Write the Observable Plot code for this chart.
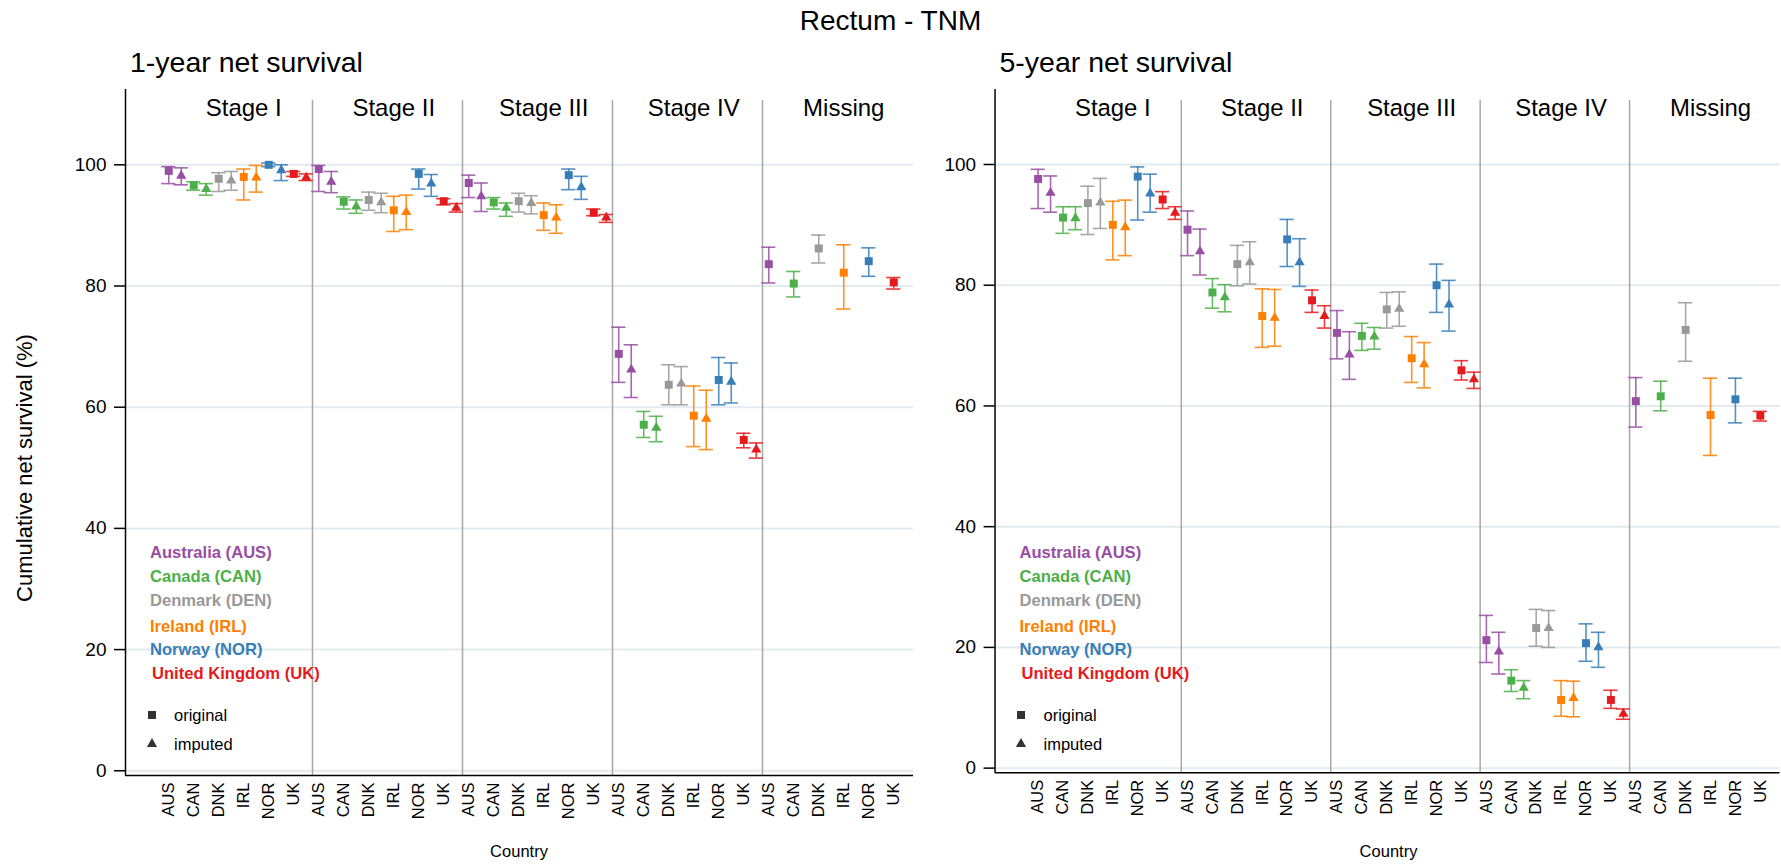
<!DOCTYPE html>
<html><head><meta charset="utf-8">
<script src="https://cdn.jsdelivr.net/npm/d3@7"></script>
<script src="https://cdn.jsdelivr.net/npm/@observablehq/plot@0.6"></script>
<style>
body{margin:0;overflow:hidden;background:#fff;font-family:"Liberation Sans",Arial,sans-serif;color:#000;}
#wrap{position:relative;width:1781px;height:864px;overflow:hidden;}
.abs{position:absolute;white-space:nowrap;}
.panel{position:absolute;top:80px;}
</style></head><body><div id="wrap"></div>
<script>
const countries = ["AUS","CAN","DNK","IRL","NOR","UK"];
const countryNames = ["Australia (AUS)","Canada (CAN)","Denmark (DEN)","Ireland (IRL)","Norway (NOR)","United Kingdom (UK)"];
const countryColors = ["#984ea3","#4daf4a","#999999","#ff7f00","#377eb8","#e41a1c"];
const stages = ["Stage I","Stage II","Stage III","Stage IV","Missing"];
const panelTitles = ["1-year net survival","5-year net survival"];
const mainTitle = "Rectum - TNM";
const yTitle = "Cumulative net survival (%)";
const xTitle = "Country";
const yTicks = [0,20,40,60,80,100];
const typeLabels = ["original","imputed"];

// [estimate, lower, upper] per stage (rows) and country (AUS..UK)
const oneYearOriginal = [
  [[99.0,96.9,99.7],[96.6,95.8,97.2],[97.7,95.6,98.7],[98.0,94.2,99.3],[100.0,99.7,100.3],[98.5,98.1,98.9]],
  [[99.3,95.6,99.9],[93.9,92.7,94.7],[94.2,92.5,95.5],[92.5,89.0,94.8],[98.5,96.0,99.3],[94.0,93.4,94.4]],
  [[97.0,94.6,98.3],[93.8,92.7,94.6],[94.0,92.2,95.3],[91.7,89.2,93.7],[98.3,95.9,99.3],[92.1,91.6,92.7]],
  [[68.8,64.1,73.2],[57.1,55.0,59.3],[63.7,60.4,67.0],[58.6,53.5,63.5],[64.5,60.4,68.2],[54.6,53.3,55.7]],
  [[83.6,80.5,86.4],[80.4,78.2,82.4],[86.2,83.8,88.4],[82.2,76.2,86.8],[84.1,81.6,86.3],[80.6,79.5,81.4]]
];
const oneYearImputed = [
  [[98.2,96.7,99.5],[96.0,95.0,96.9],[97.4,95.8,98.9],[97.9,95.5,99.9],[99.1,97.4,100.0],[97.9,97.4,98.5]],
  [[97.2,95.4,98.9],[93.1,92.0,94.2],[93.8,92.1,95.3],[92.2,89.3,95.0],[96.9,94.8,98.4],[92.9,92.2,93.6]],
  [[94.8,92.3,97.0],[92.9,91.5,93.7],[93.7,91.9,94.9],[91.3,88.7,93.4],[96.3,94.3,98.1],[91.3,90.5,91.8]],
  [[66.2,61.6,70.3],[56.6,54.3,58.5],[63.9,60.4,66.7],[58.1,53.0,62.8],[64.2,60.7,67.3],[53.0,51.6,54.1]]
];
const fiveYearOriginal = [
  [[97.6,92.7,99.2],[91.2,88.6,93.0],[93.6,88.4,96.4],[90.0,84.2,93.9],[98.0,90.8,99.6],[94.2,92.7,95.5]],
  [[89.2,84.9,92.3],[78.8,76.2,81.1],[83.5,79.9,86.6],[74.9,69.7,79.4],[87.6,83.1,90.9],[77.5,75.5,79.2]],
  [[72.1,67.8,75.8],[71.6,69.2,73.7],[76.0,72.9,78.8],[67.9,63.9,71.5],[80.0,75.5,83.5],[65.9,64.3,67.5]],
  [[21.2,17.5,25.3],[14.5,12.7,16.3],[23.2,20.2,26.3],[11.3,8.6,14.5],[20.7,17.7,23.9],[11.3,9.9,12.9]],
  [[60.8,56.5,64.7],[61.6,59.2,64.1],[72.6,67.4,77.1],[58.5,51.8,64.6],[61.1,57.2,64.6],[58.4,57.5,59.1]]
];
const fiveYearImputed = [
  [[95.3,92.1,98.1],[91.1,89.2,93.0],[93.7,89.4,97.7],[89.6,84.9,94.1],[95.2,92.1,98.4],[92.0,90.9,93.0]],
  [[85.6,81.7,89.3],[78.0,75.6,80.1],[83.8,80.2,87.2],[74.6,69.9,79.3],[83.8,79.8,87.7],[74.9,72.9,76.6]],
  [[68.5,64.4,72.3],[71.5,69.4,73.0],[76.1,73.2,78.9],[66.9,63.0,70.5],[76.8,72.4,80.8],[64.4,62.9,65.6]],
  [[19.3,15.6,22.5],[13.3,11.5,14.5],[23.2,20.0,26.1],[11.6,8.5,14.4],[20.0,16.7,22.5],[9.0,8.1,9.8]]
];

const wrap = document.getElementById("wrap");
function addText(txt, css) {
  const d = document.createElement("div");
  d.className = "abs";
  d.textContent = txt;
  Object.assign(d.style, css);
  wrap.appendChild(d);
  return d;
}

const slotsPerStage = countries.length * 2;
const xDomain = [-3.46, 59.58];
const yDomain = [-0.78, 112.43];

function buildRows(orig, imp) {
  const rows = [];
  orig.forEach((stageVals, s) => stageVals.forEach((v, c) => rows.push({stage: s, country: countries[c], type: 0, slot: s * slotsPerStage + c * 2, est: v[0], lo: v[1], hi: v[2]})));
  imp.forEach((stageVals, s) => stageVals.forEach((v, c) => rows.push({stage: s, country: countries[c], type: 1, slot: s * slotsPerStage + c * 2 + 1, est: v[0], lo: v[1], hi: v[2]})));
  return rows;
}

function panel(orig, imp) {
  const rows = buildRows(orig, imp);
  const tickSlots = [];
  stages.forEach((s, si) => countries.forEach((c, ci) => tickSlots.push(si * slotsPerStage + ci * 2)));
  const dividers = stages.slice(1).map((s, i) => (i + 1) * slotsPerStage - 0.5);
  const capHalf = 0.57;
  const colorScale = {domain: countries, range: countryColors};
  return Plot.plot({
    width: 915, height: 755,
    marginLeft: 125, marginRight: 2, marginTop: 9, marginBottom: 60,
    style: {fontFamily: "'Liberation Sans', Arial, sans-serif", background: "transparent", overflow: "visible", color: "#000"},
    x: {domain: xDomain},
    y: {domain: yDomain},
    color: colorScale,
    marks: [
      Plot.ruleY(yTicks, {stroke: "#e2ebef", strokeWidth: 2}),
      Plot.ruleX(dividers, {y1: yDomain[0], y2: 110.6, stroke: "#a8a8a8", strokeWidth: 1.5}),
      Plot.text(stages, {x: (d, i) => i * slotsPerStage + 6, y: 109.3, text: d => d, fontSize: 24, fill: "#000"}),
      Plot.ruleX(rows, {x: "slot", y1: "lo", y2: "hi", stroke: "country", strokeWidth: 1.6, strokeOpacity: 0.85}),
      Plot.ruleY(rows, {y: "lo", x1: d => d.slot - capHalf, x2: d => d.slot + capHalf, stroke: "country", strokeWidth: 1.6, strokeOpacity: 0.85}),
      Plot.ruleY(rows, {y: "hi", x1: d => d.slot - capHalf, x2: d => d.slot + capHalf, stroke: "country", strokeWidth: 1.6, strokeOpacity: 0.85}),
      Plot.dot(rows.filter(d => d.type === 0), {x: "slot", y: "est", symbol: "square", r: 4.5, fill: "country", stroke: null}),
      Plot.dot(rows.filter(d => d.type === 1), {x: "slot", y: "est", symbol: "triangle", r: 3.8, fill: "country", stroke: null}),
      Plot.ruleX([xDomain[0]], {stroke: "#000", strokeWidth: 1.5}),
      Plot.ruleY([yDomain[0]], {stroke: "#000", strokeWidth: 1.5}),
      Plot.axisY(yTicks, {tickSize: 11, tickPadding: 8, fontSize: 19, strokeWidth: 1.5, label: null}),
      Plot.axisX(tickSlots, {tickSize: 0, tickPadding: 7, tickRotate: -90, fontSize: 16.5, label: null,
        tickFormat: d => countries[(d % slotsPerStage) / 2]})
    ]
  });
}

const offsets = [0, 869.5];
const data = [[oneYearOriginal, oneYearImputed], [fiveYearOriginal, fiveYearImputed]];

addText(mainTitle, {left: "0px", width: "1781px", textAlign: "center", top: "5px", fontSize: "28px", lineHeight: "32px"});

offsets.forEach((off, p) => {
  const div = document.createElement("div");
  div.className = "panel";
  div.style.left = off + "px";
  div.appendChild(panel(data[p][0], data[p][1]));
  wrap.appendChild(div);

  addText(panelTitles[p], {left: (130 + off) + "px", top: "46px", fontSize: "28.5px", lineHeight: "32px"});
  addText(xTitle, {left: (519 + off - 100) + "px", width: "200px", textAlign: "center", top: "842px", fontSize: "16.5px", lineHeight: "18px"});

  const legY = [553, 577, 601, 626.5, 650, 674.3];
  countryNames.forEach((n, i) => {
    addText(n, {left: (150 + off + (i === 5 ? 2 : 0)) + "px", top: (legY[i] - 10) + "px", fontSize: "16.6px", lineHeight: "20px", fontWeight: "bold", color: countryColors[i]});
  });
  const symY = [715, 744];
  typeLabels.forEach((t, i) => {
    addText(t, {left: (174 + off) + "px", top: (symY[i] - 10) + "px", fontSize: "16.5px", lineHeight: "20px"});
    const s = document.createElementNS("http://www.w3.org/2000/svg", "svg");
    s.setAttribute("width", 14); s.setAttribute("height", 14);
    s.style.position = "absolute";
    s.style.left = (151.7 + off - 7) + "px";
    s.style.top = (symY[i] - 7) + "px";
    const sym = i === 0 ? d3.symbol(d3.symbolSquare, 64) : d3.symbol(d3.symbolTriangle, 45);
    const path = document.createElementNS("http://www.w3.org/2000/svg", "path");
    path.setAttribute("d", sym());
    path.setAttribute("transform", "translate(7,7)");
    path.setAttribute("fill", "#333");
    s.appendChild(path);
    wrap.appendChild(s);
  });
});

addText(yTitle, {left: "25px", top: "468px", fontSize: "22px", lineHeight: "24px", transform: "translate(-50%,-50%) rotate(-90deg)"});
</script>
</body></html>
